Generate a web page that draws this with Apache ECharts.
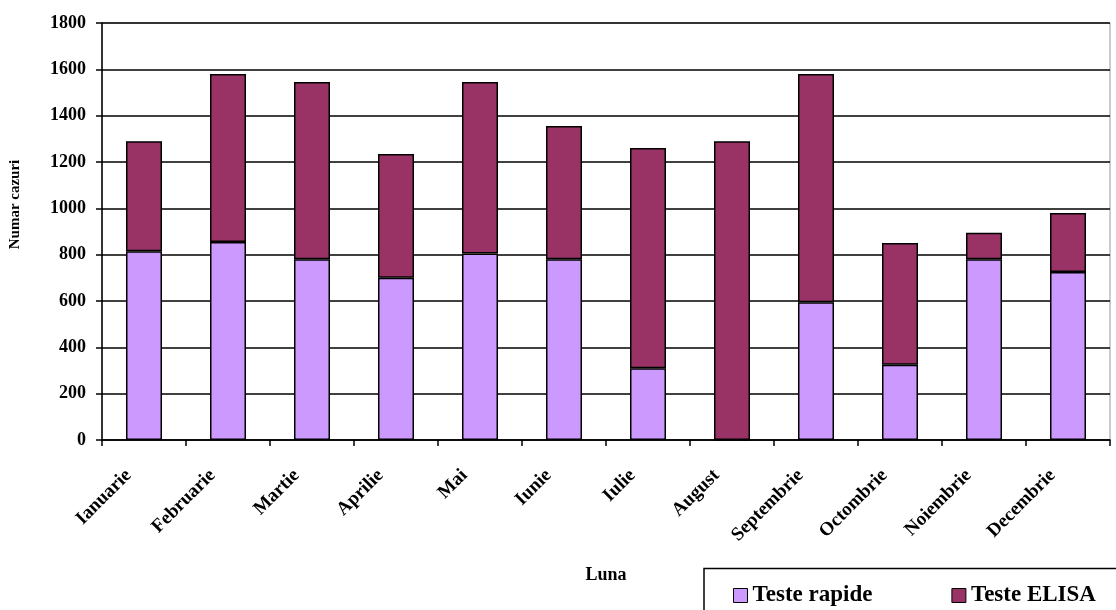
<!DOCTYPE html>
<html><head><meta charset="utf-8">
<script src="https://cdn.jsdelivr.net/npm/echarts@6/dist/echarts.min.js"></script>
<style>html,body{margin:0;padding:0;background:#fff}#c{width:1116px;height:610px}</style>
</head><body><div id="c"></div>
<script>
const categories = ['Ianuarie','Februarie','Martie','Aprilie','Mai','Iunie','Iulie','August','Septembrie','Octombrie','Noiembrie','Decembrie'];
const testeRapide = [815, 855, 780, 700, 805, 780, 310, 0, 595, 325, 780, 725];
const testeElisa = [475, 725, 765, 535, 740, 575, 950, 1290, 985, 525, 115, 255];
const yTicks = [0, 200, 400, 600, 800, 1000, 1200, 1400, 1600, 1800];

const font = '"Liberation Serif", "Times New Roman", serif';
const chart = echarts.init(document.getElementById('c'));
chart.setOption({
  animation: false,
  grid: { left: 97, right: 6, top: 23, bottom: 170, show: true, borderColor: '#999', borderWidth: 1 },
  legend: {
    left: 728, top: 579, width: 700, itemGap: 79, padding: 5,
    itemWidth: 14, itemHeight: 14, icon: 'rect',
    textStyle: { fontFamily: font, fontWeight: 'bold', fontSize: 23, color: '#000' },
    data: [
      { name: 'Teste rapide', itemStyle: { borderColor: '#000', borderWidth: 1 } },
      { name: 'Teste ELISA', itemStyle: { borderColor: '#000', borderWidth: 1 } }
    ]
  },
  graphic: [{ type: 'rect', shape: { x: 704, y: 568.5, width: 500, height: 60 }, style: { fill: 'none', stroke: '#000', lineWidth: 1.5 }, z: 100 }],
  xAxis: {
    type: 'category', data: categories,
    name: 'Luna', nameLocation: 'middle', nameGap: 126,
    nameTextStyle: { fontFamily: font, fontWeight: 'bold', fontSize: 18, color: '#000' },
    axisLine: { lineStyle: { color: '#000', width: 1.5 } },
    axisTick: { show: true, alignWithLabel: false, length: 6, lineStyle: { color: '#000', width: 1.5 } },
    axisLabel: { rotate: 45, margin: 17, padding: [0, 22, 0, 0], fontFamily: font, fontWeight: 'bold', fontSize: 19, color: '#000', interval: 0 }
  },
  yAxis: {
    type: 'value', min: 0, max: 1800, interval: 200,
    name: 'Numar cazuri', nameLocation: 'middle', nameGap: 79,
    nameTextStyle: { fontFamily: font, fontWeight: 'bold', fontSize: 15, color: '#000', padding: [0, 0, 0, 54] },
    axisLine: { show: true, lineStyle: { color: '#000', width: 1.5 } },
    axisTick: { show: true, length: 6, lineStyle: { color: '#000', width: 1.5 } },
    axisLabel: { margin: 16, fontFamily: font, fontWeight: 'bold', fontSize: 18, color: '#000',
      formatter: v => yTicks.includes(v) ? String(v) : '' },
    splitLine: { show: true, lineStyle: { color: '#000', width: 1.5 } }
  },
  series: [
    { name: 'Teste rapide', type: 'bar', stack: 't', data: testeRapide, barWidth: 36,
      itemStyle: { color: '#CC99FF', borderColor: '#000', borderWidth: 1.5 } },
    { name: 'Teste ELISA', type: 'bar', stack: 't', data: testeElisa, barWidth: 36,
      itemStyle: { color: '#993366', borderColor: '#000', borderWidth: 1.5 } }
  ]
});
</script></body></html>
